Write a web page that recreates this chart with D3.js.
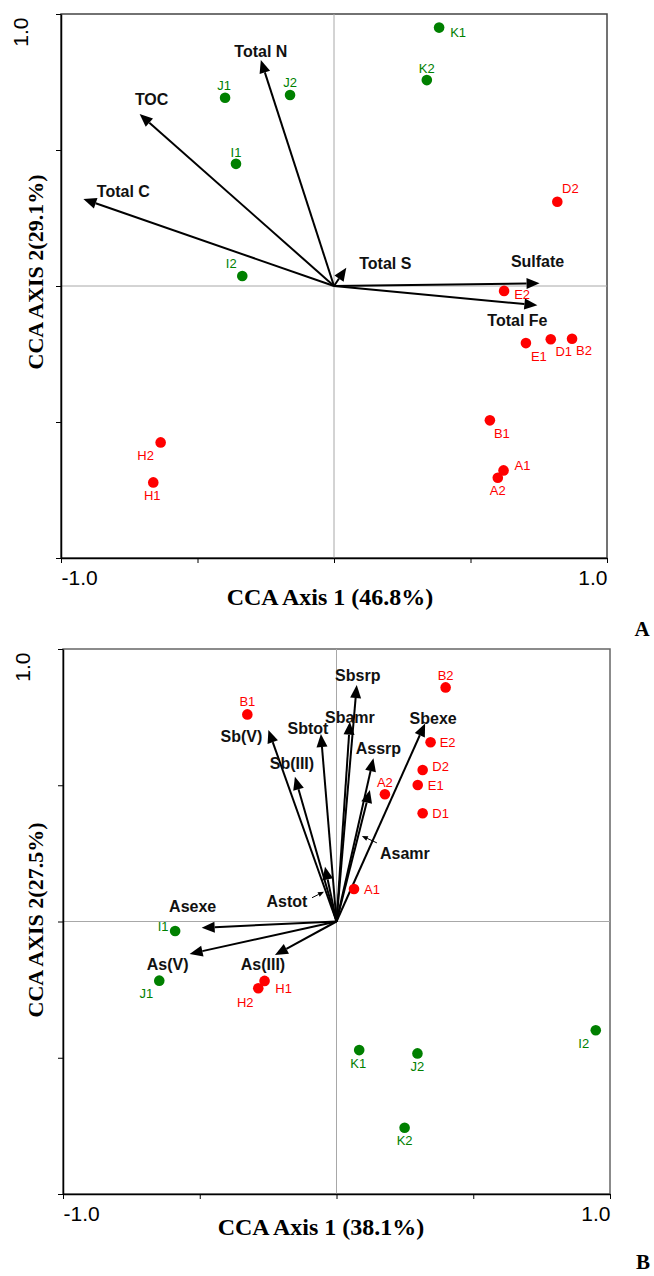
<!DOCTYPE html>
<html>
<head>
<meta charset="utf-8">
<script src="https://cdn.jsdelivr.net/npm/d3@7"></script>
<style>
  body { margin: 0; background: #fff; }
</style>
</head>
<body>
<script>
// ---------- Datos panel A ----------
const sitiosA = ["K1","K2","D2","E2","J1","J2","I1","I2","E1","D1","B2","B1","A1","A2","H2","H1"];
const eje1A = [0.385, 0.34, 0.818, 0.623, -0.399, -0.161, -0.359, -0.336, 0.703, 0.794, 0.872, 0.571, 0.621, 0.60, -0.635, -0.662];
const eje2A = [0.95, 0.757, 0.31, -0.018, 0.692, 0.702, 0.449, 0.037, -0.21, -0.196, -0.194, -0.494, -0.678, -0.705, -0.575, -0.722];

const variablesA = ["Total N","TOC","Total C","Total S","Sulfate","Total Fe"];
const vec1A = [-0.268, -0.712, -0.918, 0.045, 0.753, 0.745];
const vec2A = [0.831, 0.632, 0.32, 0.067, 0.01, -0.071];

// ---------- Datos panel B ----------
const sitiosB = ["B1","I1","B2","E2","D2","E1","D1","A2","A1","J1","H1","H2","K1","J2","K2","I2"];
const eje1B = [-0.326, -0.590, 0.399, 0.344, 0.315, 0.297, 0.315, 0.177, 0.064, -0.648, -0.263, -0.286, 0.083, 0.296, 0.249, 0.948];
const eje2B = [0.760, -0.035, 0.859, 0.658, 0.556, 0.501, 0.397, 0.467, 0.119, -0.217, -0.218, -0.245, -0.472, -0.484, -0.757, -0.399];

const variablesB = ["Sb(V)","Sb(III)","Sbtot","Astot","Sbsrp","Sbamr","Assrp","Asamr","Sbexe","Asexe","As(V)","As(III)"];
const vec1B = [-0.249, -0.152, -0.057, -0.042, 0.074, 0.049, 0.135, 0.122, 0.324, -0.493, -0.537, -0.225];
const vec2B = [0.703, 0.531, 0.688, 0.201, 0.868, 0.733, 0.599, 0.483, 0.727, -0.023, -0.119, -0.123];

const marcas = [-1, -0.5, 0, 0.5, 1];
const gruposVerdes = ["I","J","K"];

// ---------- Estilo / ubicacion de etiquetas (px) ----------
const etqSitioA = {K1:[19,5],K2:[0,-12],D2:[13,-13],E2:[18,4],J1:[-1,-12],J2:[0,-13],I1:[0,-11],I2:[-11,-12],
  E1:[13,13],D1:[13,12],B2:[12,12],B1:[12,13],A1:[19,-5],A2:[0,13],H2:[-15,13],H1:[-1,13]};
const etqSitioB = {B1:[0,-13],I1:[-12,-5],B2:[0,-12],E2:[17,0],D2:[18,-4],E1:[18,0],D1:[18,0],A2:[0,-12],A1:[18,0],
  J1:[-13,13],H1:[19,8],H2:[-13,14],K1:[-1,13],J2:[0,13],K2:[0,13],I2:[-12,13]};
const etqVarA = {"Total N":[0,-9],"TOC":[12,-15],"Total C":[40,-8],"Total S":[39,-4],"Sulfate":[-2,-22],"Total Fe":[-20,15]};
const etqVarB = {"Sb(V)":[-27,6],"Sb(III)":[-3,-13],"Sbtot":[-13,-6],"Astot":[-38,35],"Sbsrp":[1,-10],"Sbamr":[0,-4],
  "Assrp":[5,-10],"Asamr":[35,64],"Sbexe":[8,-5],"Asexe":[-9,-21],"As(V)":[-22,10],"As(III)":[-12,9]};
// lineas guia: [desde centro etiqueta dx,dy, hasta punta dx,dy]
const guiasB = {"Astot":[25,-4,-1,25],"Asamr":[-28,-11,-8,46]};

const sans = "'Liberation Sans', Arial, sans-serif";
const serif = "'Liberation Serif', 'Times New Roman', serif";

const svg = d3.select("body").append("svg").attr("width", 654).attr("height", 1276);

function flecha(g, x1, y1, x2, y2, largo, medio, grosor) {
  const ang = Math.atan2(y2 - y1, x2 - x1);
  const bx = x2 - largo * Math.cos(ang), by = y2 - largo * Math.sin(ang);
  const px = -Math.sin(ang) * medio, py = Math.cos(ang) * medio;
  g.append("line").attr("x1", x1).attr("y1", y1).attr("x2", bx).attr("y2", by)
    .attr("stroke", "#000").attr("stroke-width", grosor);
  g.append("path").attr("d", `M${x2},${y2}L${bx + px},${by + py}L${bx - px},${by - py}Z`).attr("fill", "#000");
}

function panel(cfg) {
  const x = d3.scaleLinear().domain([-1, 1]).range([cfg.x0, cfg.x1]);
  const y = d3.scaleLinear().domain([-1, 1]).range([cfg.y0, cfg.y1]);
  const g = svg.append("g");

  // marco
  g.append("rect").attr("x", cfg.x0).attr("y", cfg.y1)
    .attr("width", cfg.x1 - cfg.x0).attr("height", cfg.y0 - cfg.y1)
    .attr("fill", "none").attr("stroke", cfg.marco).attr("stroke-width", 1.5);

  // lineas del cero
  g.append("line").attr("x1", cfg.x0).attr("x2", cfg.x1).attr("y1", y(0)).attr("y2", y(0))
    .attr("stroke", "#a8a8a8").attr("stroke-width", 1);
  g.append("line").attr("x1", x(0)).attr("x2", x(0)).attr("y1", cfg.y1).attr("y2", cfg.y0)
    .attr("stroke", "#a8a8a8").attr("stroke-width", 1);

  // eje x
  const ax = g.append("g").attr("transform", `translate(0,${cfg.y0})`)
    .call(d3.axisBottom(x).tickValues(marcas).tickSize(5).tickSizeOuter(0)
      .tickFormat(d => Math.abs(d) === 1 ? d.toFixed(1) : ""));
  ax.select(".domain").attr("stroke", "#000").attr("stroke-width", 1.5);
  ax.selectAll("line").attr("stroke", "#000");
  ax.selectAll("text").attr("font-family", sans).attr("font-size", 21).attr("fill", "#000")
    .attr("text-anchor", d => d < 0 ? "start" : "end").attr("y", 27).attr("dy", 0);

  // eje y
  const ay = g.append("g").attr("transform", `translate(${cfg.x0},0)`)
    .call(d3.axisLeft(y).tickValues(marcas).tickSize(5).tickSizeOuter(0)
      .tickFormat(d => d === 1 ? d.toFixed(1) : ""));
  ay.select(".domain").attr("stroke", "#000").attr("stroke-width", 1.5);
  ay.selectAll("line").attr("stroke", "#000");
  ay.selectAll("text").attr("font-family", sans).attr("font-size", 21).attr("fill", "#000")
    .attr("transform", "rotate(-90)").attr("text-anchor", "end")
    .attr("x", -3).attr("y", -33).attr("dy", 0);

  // titulos
  g.append("text").attr("x", cfg.tx).attr("y", cfg.ty).attr("text-anchor", "middle")
    .attr("font-family", serif).attr("font-weight", "bold").attr("font-size", 24).text(cfg.tituloX);
  g.append("text").attr("transform", `translate(43,${cfg.tyc}) rotate(-90)`).attr("text-anchor", "middle")
    .attr("font-family", serif).attr("font-weight", "bold").attr("font-size", 22).text(cfg.tituloY);
  g.append("text").attr("x", cfg.lx).attr("y", cfg.ly).attr("text-anchor", "middle")
    .attr("font-family", serif).attr("font-weight", "bold").attr("font-size", 21).text(cfg.letra);

  // vectores
  const ox = x(0), oy = y(0);
  cfg.vars.forEach((v, i) => {
    const tx = x(cfg.v1[i]), ty = y(cfg.v2[i]);
    flecha(g, ox, oy, tx, ty, 13, 5.5, 2);
    const off = cfg.etqVar[v];
    const cx = tx + off[0], cy = ty + off[1];
    g.append("text").attr("x", cx).attr("y", cy).attr("dy", "0.35em").attr("text-anchor", "middle")
      .attr("font-family", sans).attr("font-weight", "bold").attr("font-size", 16).attr("fill", "#111").text(v);
    const gu = cfg.guias[v];
    if (gu) flecha(g, cx + gu[0], cy + gu[1], tx + gu[2], ty + gu[3], 6, 2.5, 1);
  });

  // sitios
  const sitios = cfg.sitios.map((s, i) => ({ s, a: cfg.e1[i], b: cfg.e2[i] }));
  const color = s => gruposVerdes.includes(s[0]) ? "#008000" : "#ff0000";
  g.selectAll("circle.sitio").data(sitios).join("circle").attr("class", "sitio")
    .attr("cx", d => x(d.a)).attr("cy", d => y(d.b)).attr("r", 5.3).attr("fill", d => color(d.s));
  g.selectAll("text.sitio").data(sitios).join("text").attr("class", "sitio")
    .attr("x", d => x(d.a) + cfg.etqSitio[d.s][0]).attr("y", d => y(d.b) + cfg.etqSitio[d.s][1])
    .attr("dy", "0.35em").attr("text-anchor", "middle")
    .attr("font-family", sans).attr("font-size", 13).attr("fill", d => color(d.s)).text(d => d.s);
}

panel({
  x0: 61, x1: 607, y0: 558, y1: 14, marco: "#444",
  tituloX: "CCA Axis 1 (46.8%)", tx: 330, ty: 605,
  tituloY: "CCA AXIS 2(29.1%)", tyc: 272,
  letra: "A", lx: 642, ly: 636,
  vars: variablesA, v1: vec1A, v2: vec2A, etqVar: etqVarA, guias: {},
  sitios: sitiosA, e1: eje1A, e2: eje2A, etqSitio: etqSitioA
});

panel({
  x0: 63, x1: 610, y0: 1194, y1: 649, marco: "#666",
  tituloX: "CCA Axis 1 (38.1%)", tx: 321, ty: 1235,
  tituloY: "CCA AXIS 2(27.5%)", tyc: 920,
  letra: "B", lx: 643, ly: 1269,
  vars: variablesB, v1: vec1B, v2: vec2B, etqVar: etqVarB, guias: guiasB,
  sitios: sitiosB, e1: eje1B, e2: eje2B, etqSitio: etqSitioB
});
</script>
</body>
</html>
